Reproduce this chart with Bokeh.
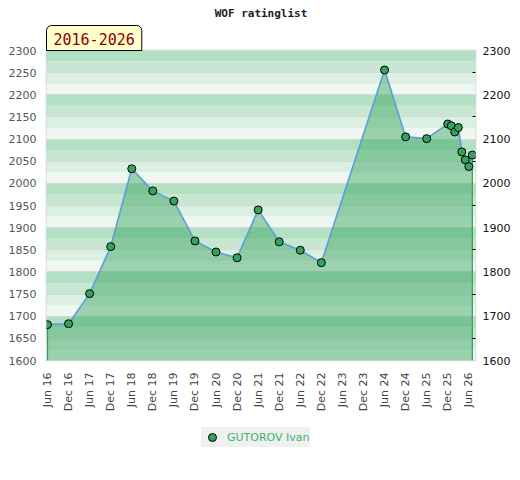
import numpy as np
from bokeh.plotting import figure
from bokeh.layouts import column
from bokeh.models import (Range1d, LinearAxis, FixedTicker, Legend,
                          LegendItem, Title)
from bokeh.embed import file_html
from bokeh.resources import INLINE

# ---- data -------------------------------------------------------------
months = ["2016-06", "2016-12", "2017-06", "2017-12", "2018-06", "2018-12",
          "2019-06", "2019-12", "2020-06", "2020-12", "2021-06", "2021-12",
          "2022-06", "2022-12", "2024-06", "2024-12", "2025-06", "2025-12",
          "2026-01", "2026-02", "2026-03", "2026-04", "2026-05", "2026-06",
          "2026-07"]
ratings = [1681, 1683, 1751, 1857, 2033, 1983, 1960, 1870, 1845, 1832,
           1940, 1868, 1849, 1821, 2256, 2105, 2101, 2134, 2130, 2116,
           2126, 2071, 2053, 2038, 2064]
player = "GUTOROV Ivan"
period = "2016-2026"
title = "WOF ratinglist"
tick_labels = ["Jun 16", "Dec 16", "Jun 17", "Dec 17", "Jun 18", "Dec 18",
               "Jun 19", "Dec 19", "Jun 20", "Dec 20", "Jun 21", "Dec 21",
               "Jun 22", "Dec 22", "Jun 23", "Dec 23", "Jun 24", "Dec 24",
               "Jun 25", "Dec 25", "Jun 26"]
y_left_ticks = list(range(1600, 2301, 50))
y_right_ticks = list(range(1600, 2301, 100))


def month_index(s):
    yy, mm = s.split("-")
    return (int(yy) - 2016) * 12 + (int(mm) - 6)


xs = [month_index(m) for m in months]
tick_pos = list(range(0, 6 * len(tick_labels), 6))

YMIN, YMAX = 1600, 2300
XMIN, XMAX = -0.28, 121.9

p = figure(frame_width=429, frame_height=310,
           x_range=Range1d(XMIN, XMAX), y_range=Range1d(YMIN, YMAX),
           output_backend="svg", toolbar_location=None, title=None,
           min_border_left=46, min_border_right=37,
           min_border_top=50, min_border_bottom=62,
           border_fill_color="white", background_fill_color="white")

p.outline_line_color = "#d4d4d4"
p.outline_line_width = 1.5

# ---- titles (period box nearest the frame, main title above) -------------
t_period = Title(text=period, align="left", offset=0, standoff=0,
                 text_font="DejaVu Sans Mono", text_font_size="15px",
                 text_font_style="normal", text_color="#8b0000",
                 background_fill_color="#ffffcc", background_fill_alpha=1,
                 border_line_color="black", border_line_width=1,
                 padding=dict(left=7, right=7, top=7, bottom=6),
                 border_radius=dict(top_left=5, top_right=5,
                                    bottom_right=0, bottom_left=0))
p.add_layout(t_period, "above")
t_main = Title(text=title, align="center", standoff=8,
               text_font="DejaVu Sans Mono", text_font_size="11px",
               text_font_style="bold", text_color="#222222")
p.add_layout(t_main, "above")

# ---- striped background ----------------------------------------------
band_colors = ["#eef7f1", "#dcefe3", "#c8e7d3", "#b3dfc3"]
bb, bt, bc = [], [], []
for k, b in enumerate(range(YMIN, YMAX, 25)):
    bb.append(b)
    bt.append(b + 25)
    bc.append(band_colors[k % 4])
p.quad(left=XMIN - 1, right=XMAX + 1, bottom=bb, top=bt, fill_color=bc,
       line_color=None, level="image")

p.xgrid.visible = False
p.ygrid.ticker = FixedTicker(ticks=y_left_ticks)
p.ygrid.grid_line_color = "#d6d6d6"
p.ygrid.grid_line_width = 1

# ---- area, line, points ------------------------------------------------
poly_x = [xs[0]] + xs + [xs[-1]]
poly_y = [YMIN] + ratings + [YMIN]
p.patch(poly_x, poly_y, fill_color="#32a55a", fill_alpha=0.45, line_color=None)
p.segment(x0=[xs[0], xs[-1]], y0=[YMIN, YMIN], x1=[xs[0], xs[-1]],
          y1=[ratings[0], ratings[-1]], line_color="#3a9e5a", line_width=1.2)
p.line(xs, ratings, line_color="#5b9fd6", line_width=1.6)
POINT_STYLE = dict(size=8, fill_color="#34a35c", line_color="black",
                   line_width=1)
pts = p.scatter(xs, ratings, **POINT_STYLE)

# ---- axes --------------------------------------------------------------
ax = p.xaxis[0]
ax.ticker = FixedTicker(ticks=tick_pos)
ax.major_label_overrides = {t: l for t, l in zip(tick_pos, tick_labels)}
ax.major_label_orientation = np.pi / 2
ax.axis_line_color = None
ax.major_tick_line_color = None
ax.minor_tick_line_color = None
ax.major_tick_in = 0
ax.major_tick_out = 0
ax.major_label_standoff = 12
ax.major_label_text_font = "DejaVu Sans"
ax.major_label_text_font_size = "11px"
ax.major_label_text_color = "#444444"

ly = p.yaxis[0]
ly.ticker = FixedTicker(ticks=y_left_ticks)
ly.axis_line_color = None
ly.major_tick_line_color = None
ly.minor_tick_line_color = None
ly.major_tick_in = 0
ly.major_tick_out = 0
ly.major_label_standoff = 10
ly.major_label_text_font = "DejaVu Sans"
ly.major_label_text_font_size = "11px"
ly.major_label_text_color = "#555555"

ry = LinearAxis(ticker=FixedTicker(ticks=y_right_ticks,
                                   minor_ticks=[t + 50 for t in y_right_ticks[:-1]]))
ry.axis_line_color = None
ry.major_tick_line_color = None
ry.major_tick_in = 0
ry.major_tick_out = 0
ry.minor_tick_in = 3
ry.minor_tick_out = 0
ry.minor_tick_line_color = "black"
ry.major_label_standoff = 7
ry.major_label_text_font = "DejaVu Sans"
ry.major_label_text_font_size = "11px"
ry.major_label_text_color = "#111111"
p.add_layout(ry, "right")

# ---- legend in a small strip below the chart ----------------------------
q = figure(width=512, height=40, x_range=Range1d(0, 1), y_range=Range1d(0, 1),
           output_backend="svg", toolbar_location=None, title=None,
           min_border=0, outline_line_color=None,
           border_fill_color="white", background_fill_color="white")
q.axis.visible = False
q.grid.visible = False
# legend-only renderer: its single point lies outside the strip's range
legend_glyph = q.scatter(x=[-10], y=[-10], **POINT_STYLE)
legend = Legend(items=[LegendItem(label=player, renderers=[legend_glyph])],
                location=(155, 15), orientation="horizontal",
                background_fill_color="#f0f0f0", background_fill_alpha=1,
                border_line_color=None, label_text_color="#3cb371",
                label_text_font="DejaVu Sans", label_text_font_size="11px",
                padding=0, margin=0, glyph_width=22, glyph_height=20,
                label_height=20, label_standoff=4)
q.add_layout(legend)

layout = column(p, q, spacing=0)
open("out.html", "w").write(file_html(layout, INLINE))
